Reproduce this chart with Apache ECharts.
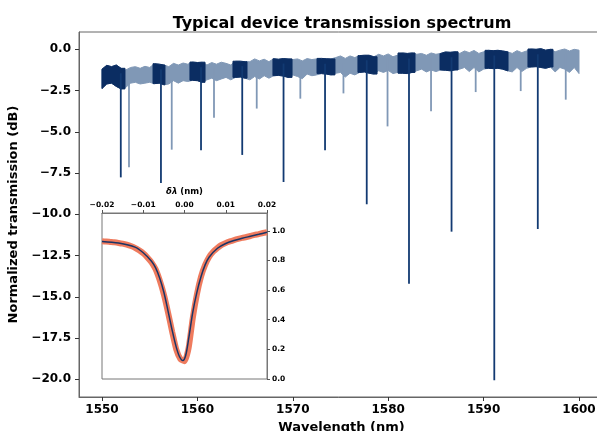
<!DOCTYPE html>
<html>
<head>
<meta charset="utf-8">
<script src="https://cdn.jsdelivr.net/npm/echarts@6/dist/echarts.min.js"></script>
<style>
  html, body { margin: 0; padding: 0; background: #fff; }
  #chart { width: 597px; height: 431px; }
</style>
</head>
<body>
<div id="chart"></div>
<script>
// noisy baseline: upper / lower edge of the trace, read every 0.5 nm from 1550 nm
var envStart = 1550, envStep = 0.5;
var envTop = [
  -1.20, -0.97, -1.05, -0.95, -1.15, -1.25, -1.10, -1.05, -1.15, -1.03,
  -1.10, -0.87, -0.90, -0.95, -1.05, -0.85, -0.95, -0.83, -0.90, -0.77,
  -0.80, -0.78, -0.95, -0.80, -0.90, -0.78, -0.85, -0.95, -0.72, -0.72,
  -0.75, -0.75, -0.58, -0.70, -0.60, -0.75, -0.57, -0.60, -0.56, -0.58,
  -0.62, -0.58, -0.70, -0.56, -0.62, -0.58, -0.55, -0.57, -0.58, -0.50,
  -0.40, -0.55, -0.40, -0.50, -0.38, -0.36, -0.36, -0.45, -0.30, -0.40,
  -0.28, -0.45, -0.35, -0.22, -0.25, -0.22, -0.30, -0.25, -0.36, -0.22,
  -0.30, -0.25, -0.16, -0.18, -0.15, -0.25, -0.10, -0.20, -0.07, -0.25,
  -0.15, -0.06, -0.08, -0.06, -0.10, -0.15, -0.25, -0.08, -0.20, -0.10,
   0.02,  0.00,  0.04, -0.05,  0.00, -0.15, -0.05,  0.02, -0.10,  0.00,
  -0.05
];
var envBottom = [
  -2.38, -2.10, -2.05, -2.25, -2.40, -2.30, -2.05, -2.00, -2.10, -2.05,
  -2.00, -2.08, -2.05, -2.15, -2.10, -1.90, -2.05, -1.90, -1.95, -1.88,
  -1.90, -2.00, -1.85, -1.75, -1.90, -1.80, -1.70, -1.85, -1.70, -1.68,
  -1.75, -1.85, -1.65, -1.80, -1.60, -1.75, -1.60, -1.58, -1.62, -1.70,
  -1.55, -1.65, -1.78, -1.50, -1.60, -1.55, -1.47, -1.50, -1.55, -1.45,
  -1.40, -1.68, -1.45, -1.55, -1.40, -1.37, -1.45, -1.50, -1.30, -1.40,
  -1.28, -1.47, -1.40, -1.45, -1.47, -1.40, -1.30, -1.20, -1.37, -1.25,
  -1.35, -1.25, -1.27, -1.30, -1.25, -1.20, -1.10, -1.35, -1.10, -1.37,
  -1.20, -1.15, -1.17, -1.15, -1.20, -1.30, -1.37, -1.10, -1.35, -1.15,
  -1.07, -1.05, -1.10, -1.15, -1.07, -1.37, -1.10, -1.20, -1.40, -1.10,
  -1.47
];

// dark stretches of the trace (around the strong resonances), nm
var darkStart = [1550.0, 1555.35, 1559.22, 1563.73, 1567.92, 1572.54, 1576.83, 1581.03, 1585.43, 1590.15, 1594.65];
var darkEnd   = [1552.41, 1556.60, 1560.80, 1565.20, 1569.92, 1574.42, 1578.83, 1582.81, 1587.32, 1592.56, 1597.27];

// resonance dips
var darkDipWl  = [1551.97, 1556.18, 1560.38, 1564.70, 1569.03, 1573.38, 1577.75, 1582.18, 1586.64, 1591.12, 1595.68];
var darkDipMin = [-7.76, -8.10, -6.12, -6.40, -8.04, -6.12, -9.39, -14.20, -11.05, -20.06, -10.89];
var lightDipWl  = [1552.83, 1557.31, 1561.74, 1566.22, 1570.79, 1575.31, 1579.93, 1584.49, 1589.17, 1593.89, 1598.61];
var lightDipMin = [-7.15, -6.08, -4.15, -3.59, -2.99, -2.67, -4.67, -3.76, -2.59, -2.53, -3.05];

// inset: measured points and fit
var measDl = [-0.020, -0.019, -0.018, -0.017, -0.016, -0.015, -0.014, -0.013, -0.012, -0.011,
              -0.010, -0.009, -0.008, -0.007, -0.006, -0.005, -0.004, -0.003, -0.002, -0.001,
               0.000,  0.001,  0.002,  0.003,  0.004,  0.005,  0.006,  0.007,  0.008,  0.009,
               0.010,  0.011,  0.012,  0.013,  0.014,  0.015,  0.016,  0.017,  0.018,  0.019, 0.020];
var measT = [0.930, 0.928, 0.925, 0.922, 0.918, 0.913, 0.906, 0.897, 0.885, 0.868,
             0.848, 0.820, 0.787, 0.740, 0.665, 0.570, 0.450, 0.320, 0.200, 0.135,
             0.120, 0.210, 0.410, 0.570, 0.690, 0.770, 0.825, 0.860, 0.885, 0.905,
             0.918, 0.928, 0.937, 0.945, 0.952, 0.958, 0.965, 0.972, 0.978, 0.985, 0.990];
var fitDl = [-0.020, -0.016, -0.012, -0.010, -0.008, -0.007, -0.006, -0.005, -0.004, -0.003,
             -0.002, -0.0012, -0.0004, 0.0003, 0.001, 0.002, 0.003, 0.004, 0.005, 0.006,
              0.008, 0.010, 0.012, 0.014, 0.016, 0.018, 0.020];
var fitT = [0.928, 0.917, 0.890, 0.852, 0.795, 0.750, 0.680, 0.585, 0.460, 0.330,
            0.215, 0.150, 0.124, 0.160, 0.270, 0.450, 0.585, 0.690, 0.770, 0.823,
            0.882, 0.914, 0.934, 0.950, 0.963, 0.976, 0.990];

var xTicks = [1550, 1560, 1570, 1580, 1590, 1600];
var yTicks = [-20, -17.5, -15, -12.5, -10, -7.5, -5, -2.5, 0];
var insetXTicks = [-0.02, -0.01, 0, 0.01, 0.02];
var insetYTicks = [0, 0.2, 0.4, 0.6, 0.8, 1.0];

var DARK = '#0b2d62';
var LIGHT = '#8098b6';
var FONT = 'DejaVu Sans';

var envWl = envTop.map(function (v, i) { return envStart + i * envStep; });

function minus(s) { return s.replace('-', '\u2212'); }

function band(api, s, e, color) {
    var first = -1, last = -1;
    for (var i = 0; i < envWl.length; i++) {
        if (envWl[i] >= s && envWl[i] <= e) {
            if (first < 0) first = i;
            last = i;
        }
    }
    var pts = [api.coord([s, envTop[first]])];
    for (var i = first; i <= last; i++) pts.push(api.coord([envWl[i], envTop[i]]));
    pts.push(api.coord([e, envTop[last]]));
    pts.push(api.coord([e, envBottom[last]]));
    for (var i = last; i >= first; i--) pts.push(api.coord([envWl[i], envBottom[i]]));
    pts.push(api.coord([s, envBottom[first]]));
    return {
        type: 'polygon',
        shape: { points: pts },
        style: { fill: color, stroke: color, lineWidth: 1 }
    };
}

function nearestTop(wl) {
    var i = Math.round((wl - envStart) / envStep);
    i = Math.max(0, Math.min(envTop.length - 1, i));
    return envTop[i];
}

function dipSeries(wls, mins, color, width) {
    return {
        type: 'custom',
        xAxisIndex: 0, yAxisIndex: 0,
        clip: true,
        data: wls.map(function (w, i) { return [w, mins[i]]; }),
        renderItem: function (params, api) {
            var w = api.value(0);
            var p0 = api.coord([w, nearestTop(w) - 0.3]);
            var p1 = api.coord([w, api.value(1)]);
            return {
                type: 'line',
                shape: { x1: p0[0], y1: p0[1], x2: p1[0], y2: p1[1] },
                style: { stroke: color, lineWidth: width }
            };
        }
    };
}

var chart = echarts.init(document.getElementById('chart'));
var option = {
    animation: false,
    textStyle: { fontFamily: FONT },
    title: {
        text: 'Typical device transmission spectrum',
        left: 337, top: 11, textAlign: 'center',
        textStyle: { fontFamily: FONT, fontSize: 16, fontWeight: 'bold', color: '#000' }
    },
    grid: [
        { left: 79, top: 32, width: 525, height: 365, show: true, borderColor: '#666', borderWidth: 1,
          outerBoundsMode: 'none', containLabel: false },
        { left: 102, top: 213, width: 165, height: 166, show: true, borderColor: '#777', borderWidth: 1,
          backgroundColor: '#fff', outerBoundsMode: 'none', containLabel: false }
    ],
    xAxis: [{
        type: 'value', gridIndex: 0, min: 1547.59, max: 1602.62,
        name: 'Wavelength (nm)', nameLocation: 'middle', nameGap: 20,
        nameTextStyle: { fontFamily: FONT, fontSize: 13, fontWeight: 'bold', color: '#000' },
        axisLine: { show: true, onZero: false, lineStyle: { color: '#666' } },
        axisTick: { show: true, length: 4, customValues: xTicks, lineStyle: { color: '#333' } },
        axisLabel: { customValues: xTicks, margin: 7, fontFamily: FONT, fontSize: 12, fontWeight: 'bold', color: '#000',
            formatter: function (v) { return String(v); } },
        splitLine: { show: false }
    }, {
        type: 'value', gridIndex: 1, min: -0.02, max: 0.02, position: 'top',
        name: '{i|δλ} (nm)', nameLocation: 'middle', nameGap: 17,
        nameTextStyle: { fontFamily: FONT, fontSize: 8.5, fontWeight: 'bold', color: '#000',
            rich: { i: { fontFamily: FONT, fontSize: 8.5, fontWeight: 'bold', fontStyle: 'italic', color: '#000' } } },
        axisLine: { show: true, onZero: false, lineStyle: { color: '#777' } },
        axisTick: { show: true, length: 3, customValues: insetXTicks, lineStyle: { color: '#555' } },
        axisLabel: { customValues: insetXTicks, margin: 4, fontFamily: FONT, fontSize: 7.5, fontWeight: 'bold', color: '#000',
            formatter: function (v) { return minus(v.toFixed(2)); } },
        splitLine: { show: false }
    }],
    yAxis: [{
        type: 'value', gridIndex: 0, min: -21.07, max: 1.05,
        name: 'Normalized transmission (dB)', nameLocation: 'middle', nameGap: 49,
        nameTextStyle: { fontFamily: FONT, fontSize: 13, fontWeight: 'bold', color: '#000' },
        axisLine: { show: true, onZero: false, lineStyle: { color: '#666' } },
        axisTick: { show: true, length: 4, customValues: yTicks, lineStyle: { color: '#333' } },
        axisLabel: { customValues: yTicks, margin: 8, fontFamily: FONT, fontSize: 12, fontWeight: 'bold', color: '#000',
            formatter: function (v) { return minus(v.toFixed(1)); } },
        splitLine: { show: false }
    }, {
        type: 'value', gridIndex: 1, min: 0, max: 1.12, position: 'right',
        axisLine: { show: true, onZero: false, lineStyle: { color: '#777' } },
        axisTick: { show: true, length: 3, customValues: insetYTicks, lineStyle: { color: '#555' } },
        axisLabel: { customValues: insetYTicks, margin: 5, fontFamily: FONT, fontSize: 7.5, fontWeight: 'bold', color: '#000',
            formatter: function (v) { return v.toFixed(1); } },
        splitLine: { show: false }
    }],
    series: [
        {
            type: 'custom', xAxisIndex: 0, yAxisIndex: 0, clip: true,
            data: [[envWl[0], envWl[envWl.length - 1], 0]],
            encode: { x: [0, 1], y: 2 },
            renderItem: function (params, api) {
                return band(api, api.value(0), api.value(1), LIGHT);
            }
        },
        dipSeries(lightDipWl, lightDipMin, LIGHT, 1.8),
        {
            type: 'custom', xAxisIndex: 0, yAxisIndex: 0, clip: true,
            data: darkStart.map(function (s, j) { return [s, darkEnd[j], 0]; }),
            encode: { x: [0, 1], y: 2 },
            renderItem: function (params, api) {
                return band(api, api.value(0), api.value(1), DARK);
            }
        },
        dipSeries(darkDipWl, darkDipMin, '#123a72', 1.8),
        {
            type: 'line', xAxisIndex: 1, yAxisIndex: 1,
            data: measDl.map(function (d, i) { return [d, measT[i]]; }),
            symbol: 'none', smooth: 0.2,
            lineStyle: { color: '#ef7b5e', width: 6 }
        },
        {
            type: 'line', xAxisIndex: 1, yAxisIndex: 1,
            data: fitDl.map(function (d, i) { return [d, fitT[i]]; }),
            symbol: 'none', smooth: 0.3,
            lineStyle: { color: '#1a3466', width: 1.5 }
        }
    ]
};
chart.setOption(option);
</script>
</body>
</html>
